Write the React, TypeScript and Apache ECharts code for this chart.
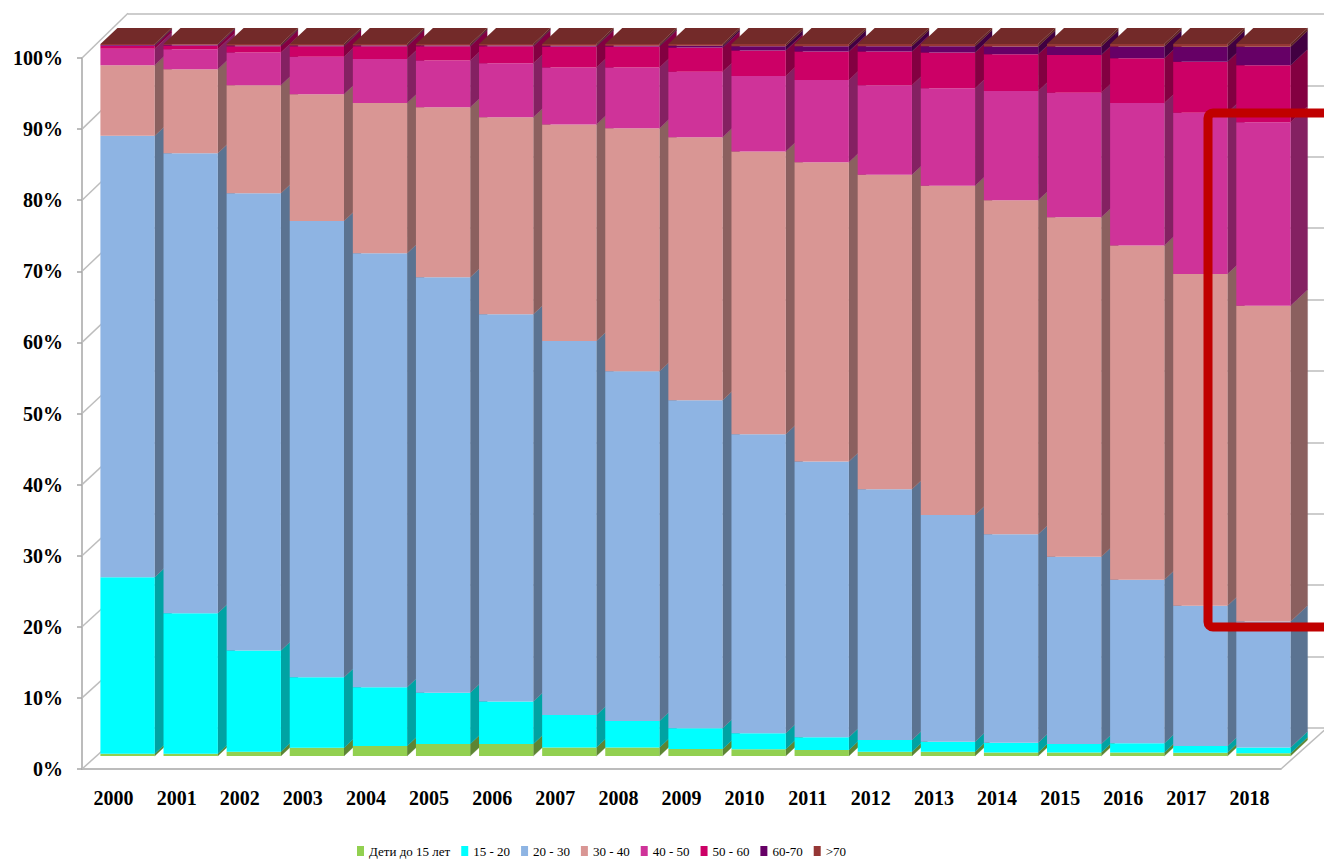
import React, { useEffect, useRef } from 'react';
import * as echarts from 'echarts';

const YEARS = ['2000','2001','2002','2003','2004','2005','2006','2007','2008','2009','2010','2011','2012','2013','2014','2015','2016','2017','2018'];
const SERIES_NAMES = ['Дети до 15 лет', '15 - 20', '20 - 30', '30 - 40', '40 - 50', '50 - 60', '60-70', '>70'];
const COLORS = ['#92D050', '#00FFFF', '#8EB4E3', '#D99694', '#CF3399', '#CC0066', '#660066', '#953735'];

const KIDS = [0.3, 0.3, 0.6, 1.15, 1.4, 1.7, 1.7, 1.2, 1.2, 1.0, 0.95, 0.85, 0.6, 0.6, 0.5, 0.5, 0.5, 0.45, 0.4];
const A15_20 = [24.8, 19.75, 14.2, 9.9, 8.25, 7.2, 5.95, 4.55, 3.7, 2.9, 2.25, 1.8, 1.65, 1.4, 1.35, 1.2, 1.3, 0.95, 0.8];
const A20_30 = [62.0, 64.6, 64.25, 64.1, 60.95, 58.35, 54.4, 52.55, 49.15, 46.05, 42.0, 38.7, 35.2, 31.85, 29.3, 26.3, 22.95, 19.7, 17.7];
const A30_40 = [9.9, 11.8, 15.15, 17.8, 21.1, 23.85, 27.65, 30.4, 34.1, 36.95, 39.7, 42.05, 44.2, 46.25, 46.9, 47.65, 46.95, 46.6, 44.35];
const A40_50 = [2.35, 2.8, 4.6, 5.25, 6.2, 6.6, 7.6, 8.0, 8.55, 9.2, 10.6, 11.55, 12.55, 13.7, 15.35, 17.5, 20.0, 22.65, 25.75];
const A50_60 = [0.4, 0.55, 0.9, 1.5, 1.8, 2.0, 2.4, 2.95, 2.95, 3.4, 3.6, 4.0, 4.75, 5.0, 5.15, 5.3, 6.3, 7.15, 8.0];
const A60_70 = [0.1, 0.1, 0.1, 0.1, 0.1, 0.1, 0.1, 0.1, 0.1, 0.25, 0.6, 0.75, 0.75, 0.9, 1.1, 1.2, 1.65, 2.1, 2.6];
const A70 = [0.15, 0.1, 0.2, 0.2, 0.2, 0.2, 0.2, 0.25, 0.25, 0.25, 0.3, 0.3, 0.3, 0.3, 0.35, 0.35, 0.35, 0.4, 0.4];

const Y_TICKS = [0, 10, 20, 30, 40, 50, 60, 70, 80, 90, 100];

const FONT = "'Liberation Serif', 'Times New Roman', serif";
const WALL = '#BDBDBD';
const AXIS = '#A6A6A6';

function darken(hex: string, f: number): string {
  const n = parseInt(hex.slice(1), 16);
  const r = Math.round(((n >> 16) & 255) * f);
  const g = Math.round(((n >> 8) & 255) * f);
  const b = Math.round((n & 255) * f);
  return 'rgb(' + r + ',' + g + ',' + b + ')';
}

export default function App() {
  const ref = useRef<HTMLDivElement>(null);
  useEffect(() => {
    document.body.style.margin = '0';
    if (!ref.current) return;
    const chart = echarts.init(ref.current, null, { renderer: 'svg' });
    const raw = [KIDS, A15_20, A20_30, A30_40, A40_50, A50_60, A60_70, A70];
    const totals = YEARS.map((_, i) => raw.reduce((s, arr) => s + arr[i], 0));
    const pct = raw.map((arr) => arr.map((v, i) => (v / totals[i]) * 100));
    const DX = 17;
    const DY = 16;
    const GAP = 0.14;

    const barSeries = SERIES_NAMES.map((name, s) => ({
      name,
      type: 'bar',
      xAxisIndex: 0,
      yAxisIndex: 0,
      stack: 'total',
      barCategoryGap: '14%',
      itemStyle: { color: COLORS[s] },
      data: pct[s],
      z: 3,
      silent: true,
    }));

    const sideSeries = {
      type: 'custom',
      xAxisIndex: 0,
      yAxisIndex: 0,
      z: 2,
      silent: true,
      encode: { x: 0, y: 1 },
      data: YEARS.map((_, i) => [i, ...pct.map((p) => p[i])]),
      renderItem: (params: any, api: any) => {
        const i = api.value(0);
        const band = api.size([1, 0])[0];
        const bw = band * (1 - GAP);
        const xc = api.coord([i, 0])[0];
        const xL = xc - bw / 2;
        const xR = xc + bw / 2;
        const children: any[] = [];
        let cum = 0;
        let topColor = COLORS[COLORS.length - 1];
        for (let s = 0; s < SERIES_NAMES.length; s++) {
          const v = api.value(s + 1);
          const y0 = api.coord([i, cum])[1];
          cum += v;
          const y1 = api.coord([i, cum])[1];
          if (v > 0) topColor = COLORS[s];
          children.push({
            type: 'polygon',
            shape: { points: [[xR, y0], [xR, y1], [xR + DX, y1 - DY], [xR + DX, y0 - DY]] },
            style: { fill: darken(COLORS[s], 0.64), stroke: darken(COLORS[s], 0.64), lineWidth: 0.3 },
          });
        }
        const yT = api.coord([i, cum])[1];
        children.push({
          type: 'polygon',
          shape: { points: [[xL, yT], [xR, yT], [xR + DX, yT - DY], [xL + DX, yT - DY]] },
          style: { fill: darken(topColor, 0.77) },
        });
        return { type: 'group', children };
      },
    };

    const wallSeries = {
      type: 'custom',
      xAxisIndex: 1,
      yAxisIndex: 1,
      z: 1,
      silent: true,
      encode: { x: 0, y: 1 },
      data: Y_TICKS.map((v) => [0, v]),
      renderItem: (params: any, api: any) => {
        const v = api.value(1);
        const y = api.coord([0, v])[1];
        const x0 = params.coordSys.x;
        const w = params.coordSys.width;
        const dy = 41.3 + (3.4 * v) / 100;
        const children: any[] = [
          {
            type: 'line',
            shape: { x1: x0, y1: y, x2: x0 + 46, y2: y - dy },
            style: { stroke: WALL, lineWidth: 1.5 },
          },
        ];
        if (v === 0) {
          children.push({
            type: 'line',
            shape: { x1: x0 + w, y1: y, x2: x0 + w + 46, y2: y - dy },
            style: { stroke: WALL, lineWidth: 1.5 },
          });
        }
        return { type: 'group', children };
      },
    };

    chart.setOption({
      animation: false,
      backgroundColor: '#FFFFFF',
      grid: [
        { left: 96, right: 29, top: 44, bottom: 106 },
        { left: 82, right: 43, top: 58, bottom: 93 },
        { left: 128, width: 1250, top: 14, bottom: 134 },
      ],
      xAxis: [
        { gridIndex: 0, type: 'category', data: YEARS, show: false },
        {
          gridIndex: 1,
          type: 'category',
          data: YEARS,
          axisLine: { lineStyle: { color: AXIS, width: 1.5 } },
          axisTick: { length: 6, lineStyle: { color: AXIS, width: 1.5 } },
          axisLabel: { margin: 19, fontSize: 20, fontWeight: 'bold', fontFamily: FONT, color: '#000' },
        },
        { gridIndex: 2, type: 'value', min: 0, max: 1, show: false },
      ],
      yAxis: [
        { gridIndex: 0, type: 'value', min: 0, max: 100, show: false },
        {
          gridIndex: 1,
          type: 'value',
          min: 0,
          max: 100,
          interval: 10,
          axisLine: { show: true, lineStyle: { color: AXIS, width: 1.5 } },
          axisTick: { show: true, length: 5, lineStyle: { color: AXIS, width: 1.5 } },
          axisLabel: { formatter: '{value}%', margin: 19, fontSize: 20, fontWeight: 'bold', fontFamily: FONT, color: '#000' },
          splitLine: { show: false },
        },
        {
          gridIndex: 2,
          type: 'value',
          min: 0,
          max: 100,
          interval: 10,
          axisLine: { show: false },
          axisTick: { show: false },
          axisLabel: { show: false },
          splitLine: { show: true, lineStyle: { color: WALL, width: 1.5 } },
        },
      ],
      legend: {
        data: SERIES_NAMES,
        left: 357,
        top: 844,
        padding: 0,
        icon: 'rect',
        itemWidth: 7,
        itemHeight: 10,
        itemGap: 11,
        textStyle: { fontSize: 13, lineHeight: 14, fontFamily: FONT, color: '#000' },
      },
      graphic: [
        {
          type: 'rect',
          z: 100,
          shape: { x: 1208, y: 113, width: 200, height: 514, r: 5 },
          style: { fill: 'transparent', stroke: '#C00000', lineWidth: 9 },
        },
      ],
      series: [...barSeries, sideSeries, wallSeries],
    });
    return () => chart.dispose();
  }, []);
  return <div ref={ref} style={{ width: 1324, height: 862 }} />;
}
